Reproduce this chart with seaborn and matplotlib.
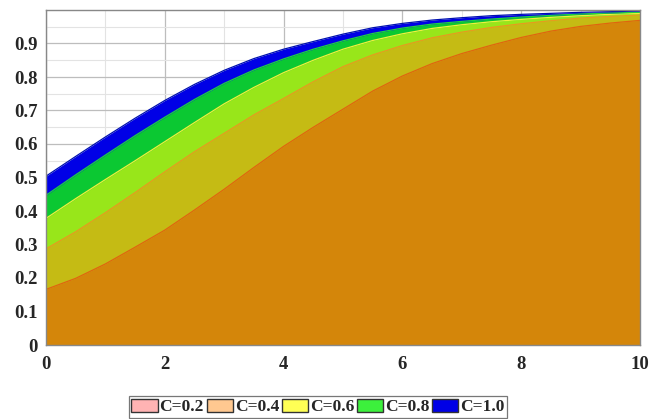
import matplotlib
matplotlib.use("Agg")
import matplotlib.pyplot as plt
from matplotlib.patches import Patch
from matplotlib.ticker import MultipleLocator
import numpy as np
import pandas as pd
import seaborn as sns

# Curve values for each C, sampled at x = 0, 0.5, ..., 10
x_vals = [0, 0.5, 1, 1.5, 2, 2.5, 3, 3.5, 4, 4.5, 5,
          5.5, 6, 6.5, 7, 7.5, 8, 8.5, 9, 9.5, 10]
c_labels = ["C=0.2", "C=0.4", "C=0.6", "C=0.8", "C=1.0"]
y_c02 = [0.166, 0.199, 0.242, 0.292, 0.343, 0.403, 0.465, 0.530, 0.593, 0.650, 0.704,
         0.758, 0.803, 0.840, 0.870, 0.895, 0.918, 0.937, 0.951, 0.961, 0.969]
y_c04 = [0.287, 0.338, 0.395, 0.455, 0.517, 0.577, 0.632, 0.687, 0.736, 0.786, 0.831,
         0.866, 0.894, 0.917, 0.934, 0.948, 0.959, 0.968, 0.976, 0.981, 0.985]
y_c06 = [0.378, 0.437, 0.494, 0.550, 0.607, 0.664, 0.720, 0.769, 0.813, 0.850, 0.883,
         0.909, 0.929, 0.945, 0.956, 0.965, 0.972, 0.978, 0.983, 0.987, 0.990]
y_c08 = [0.447, 0.508, 0.567, 0.625, 0.680, 0.733, 0.781, 0.821, 0.854, 0.883, 0.908,
         0.930, 0.946, 0.958, 0.966, 0.973, 0.979, 0.984, 0.988, 0.991, 0.993]
y_c10 = [0.504, 0.563, 0.621, 0.677, 0.730, 0.778, 0.820, 0.855, 0.883, 0.906, 0.928,
         0.947, 0.960, 0.970, 0.977, 0.983, 0.987, 0.990, 0.993, 0.995, 0.997]
series = [y_c02, y_c04, y_c06, y_c08, y_c10]

# Colours: legend swatches, visible band fills, and boundary lines
legend_colors = ["#ffb3b3", "#ffc890", "#ffff55", "#3cf03c", "#0000e6"]
band_colors = ["#d4860a", "#c5bb14", "#98e61a", "#0bc832", "#0000e6"]
edge_colors = ["#e0650f", "#e89a1e", "#f0f03c", "#20d040", "#0010b0"]

df = pd.DataFrame({
    "x": np.tile(x_vals, len(c_labels)),
    "y": np.concatenate(series),
    "C": np.repeat(c_labels, len(x_vals)),
})

sns.set_style("white")
serif = ["Liberation Serif", "DejaVu Serif"]
plt.rcParams["font.family"] = serif

fig = plt.figure(figsize=(6.51, 4.19), dpi=100)
ax = fig.add_axes([46 / 651, 1 - 345 / 419, 594 / 651, 335 / 419])

# Fill from the top curve downward so each band keeps its own colour
for i in reversed(range(len(c_labels))):
    ax.fill_between(x_vals, 0, series[i], color=band_colors[i], linewidth=0, zorder=2 + (4 - i))

sns.lineplot(data=df, x="x", y="y", hue="C", palette=edge_colors, legend=False,
             linewidth=0.9, ax=ax, zorder=8)

ax.set_xlim(0, 10)
ax.set_ylim(0, 1)
ax.set_xticks([0, 2, 4, 6, 8, 10])
ax.set_yticks([0, 0.1, 0.2, 0.3, 0.4, 0.5, 0.6, 0.7, 0.8, 0.9])
ax.set_yticklabels(["0", "0.1", "0.2", "0.3", "0.4", "0.5", "0.6", "0.7", "0.8", "0.9"])
ax.xaxis.set_minor_locator(MultipleLocator(1))
ax.yaxis.set_minor_locator(MultipleLocator(0.05))
ax.grid(which="major", color="#bdbdbd", linewidth=0.9, zorder=0)
ax.grid(which="minor", color="#e3e3e3", linewidth=0.8, zorder=0)
ax.set_axisbelow(True)
ax.set_xlabel("")
ax.set_ylabel("")

for lbl in ax.get_xticklabels() + ax.get_yticklabels():
    lbl.set_fontweight("bold")
    lbl.set_fontsize(13.5)
ax.tick_params(which="major", direction="out", length=4, width=0.8, color="#555555", pad=2)
ax.tick_params(which="minor", direction="out", length=2.5, width=0.8, color="#555555")
ax.tick_params(axis="x", pad=4)

for sp in ax.spines.values():
    sp.set_color("#888888")
    sp.set_linewidth(1.0)
    sp.set_zorder(10)

handles = [Patch(facecolor=c, edgecolor="#333333", linewidth=1.0) for c in legend_colors]
leg = fig.legend(handles, c_labels, loc="center", bbox_to_anchor=(318 / 651, 1 - 407 / 419),
                 ncol=5, frameon=True, fancybox=False, edgecolor="#555555",
                 handlelength=1.5, handleheight=0.85, handletextpad=0.12, columnspacing=0.15,
                 borderpad=0.12, borderaxespad=0,
                 prop={"family": serif, "weight": "bold", "size": 12.5})
leg.get_frame().set_linewidth(0.9)

fig.savefig("out.png", dpi=100)
